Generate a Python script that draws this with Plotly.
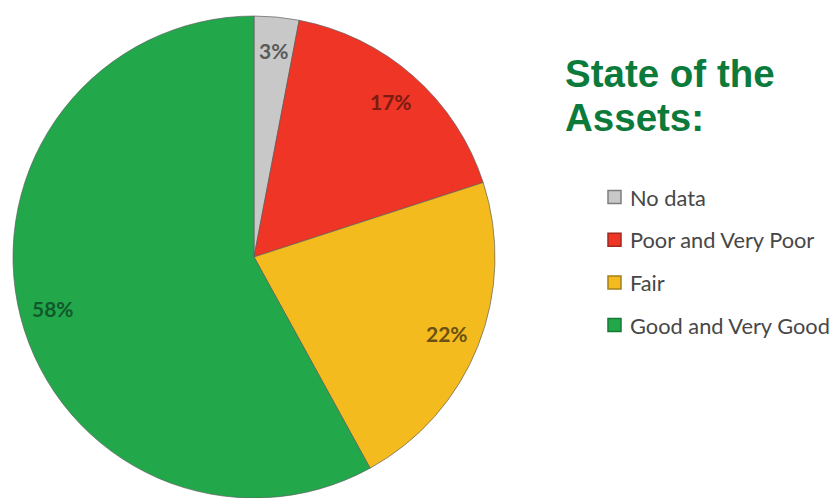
import math
import plotly.graph_objects as go

# Condition shares of the asset base
categories = ["No data", "Poor and Very Poor", "Fair", "Good and Very Good"]
shares = [3, 17, 22, 58]
slice_colors = ["#c8c8c8", "#ee3526", "#f4bb1f", "#22a84b"]
label_colors = ["#5a5a5a", "#7a1c12", "#6a5112", "#11592b"]
swatch_borders = ["#7d7d7d", "#a02a1e", "#a57f1a", "#167a36"]

title_lines = ["State of the", "Assets:"]

W, H = 835, 498
cx, cy, R = 254, 257, 241  # pie centre and radius, in pixels

fig = go.Figure(
    go.Pie(
        labels=categories,
        values=shares,
        sort=False,
        direction="clockwise",
        rotation=0,
        marker=dict(colors=slice_colors,
                    line=dict(color="rgba(90,90,90,0.65)", width=1)),
        textinfo="none",
        hoverinfo="label+percent",
        showlegend=False,
        domain=dict(x=[(cx - R) / W, (cx + R) / W],
                    y=[max(0, 1 - (cy + R) / H), 1 - (cy - R) / H]),
    )
)

annotations = []
shapes = []

# Percentage labels placed at each slice's mid-angle
total = sum(shares)
cum = 0.0
for v, col in zip(shares, label_colors):
    mid = math.radians((cum + v / 2) / total * 360)
    cum += v
    px = cx + 0.86 * R * math.sin(mid)
    py = cy - 0.86 * R * math.cos(mid)
    annotations.append(dict(
        x=px / W, y=1 - py / H, xref="paper", yref="paper",
        text=f"{v}%", showarrow=False, xanchor="center", yanchor="middle",
        font=dict(family="Lato", size=21, color=col, weight="bold"),
    ))

# Title
for i, line in enumerate(title_lines):
    annotations.append(dict(
        x=563 / W, y=1 - (74 + i * 43) / H, xref="paper", yref="paper",
        text=f"<b>{line}</b>", showarrow=False, xanchor="left", yanchor="middle",
        font=dict(family="Liberation Sans, Arial", size=38.5, color="#0b7a3b"),
    ))

# Legend: swatch + label per category
row0, row_gap = 197, 42.7
for i, (name, fill, edge) in enumerate(zip(categories, slice_colors, swatch_borders)):
    ry = row0 + i * row_gap
    shapes.append(dict(
        type="rect", xref="paper", yref="paper",
        x0=608 / W, x1=621 / W, y0=1 - (ry + 6.5) / H, y1=1 - (ry - 6.5) / H,
        fillcolor=fill, line=dict(color=edge, width=1.5),
    ))
    annotations.append(dict(
        x=628 / W, y=1 - ry / H, xref="paper", yref="paper",
        text=name, showarrow=False, xanchor="left", yanchor="middle",
        font=dict(family="Lato", size=21.8, color="#474747"),
    ))

fig.update_layout(
    width=W, height=H,
    margin=dict(l=0, r=0, t=0, b=0),
    paper_bgcolor="white", plot_bgcolor="white",
    annotations=annotations, shapes=shapes,
)

fig.write_html("out.html")
